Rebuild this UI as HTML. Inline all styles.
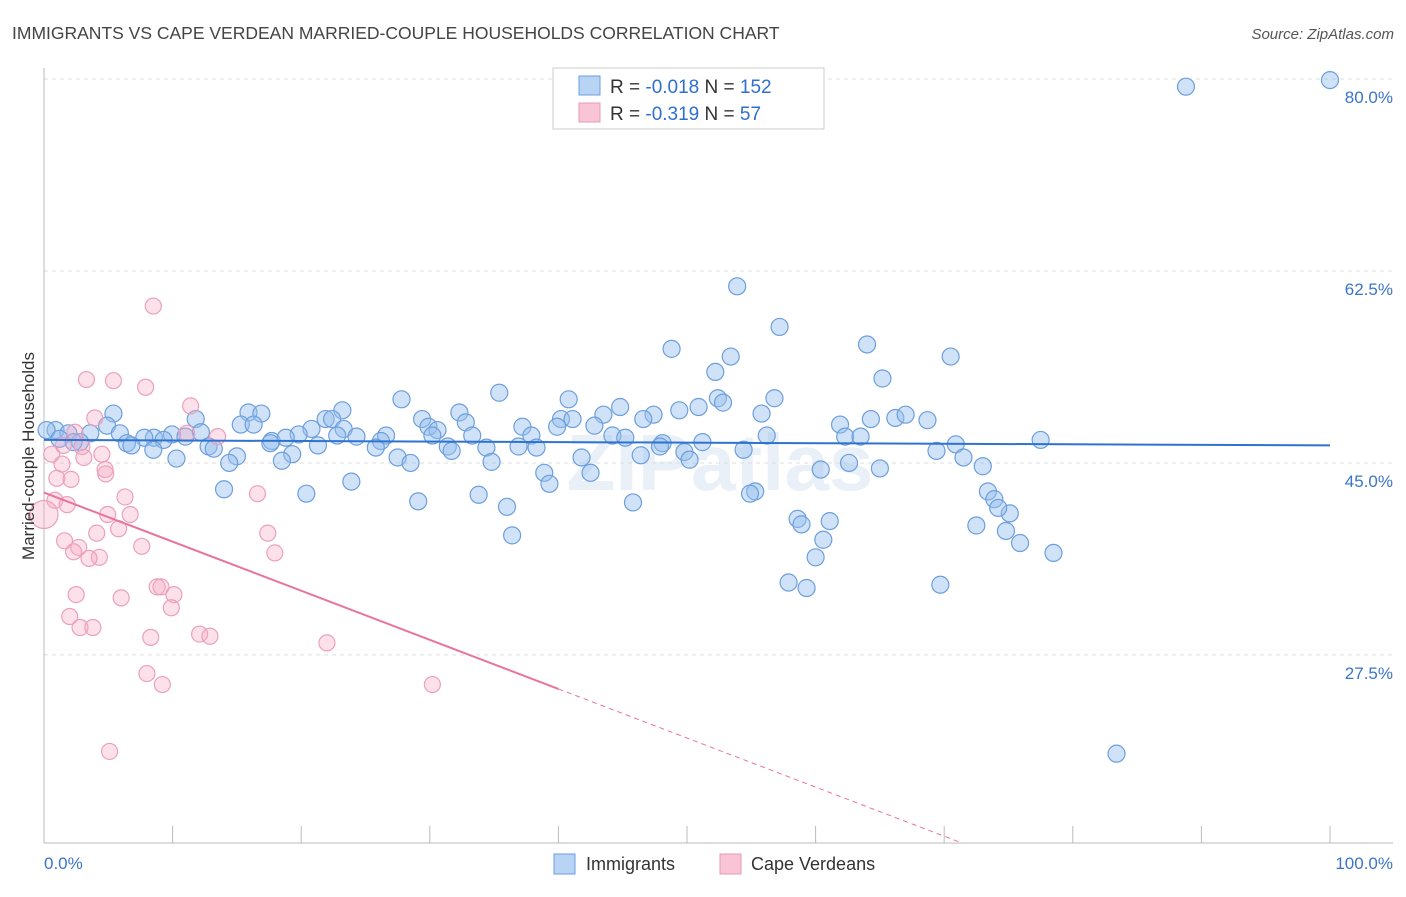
<!DOCTYPE html>
<html><head><meta charset="utf-8"><style>
body{margin:0;background:#fff;font-family:"Liberation Sans",sans-serif;}
svg text{font-family:"Liberation Sans",sans-serif;}
</style></head><body>
<svg id="chart" width="1406" height="892">
<text x="12" y="39" font-size="17.5" fill="#444">IMMIGRANTS VS CAPE VERDEAN MARRIED-COUPLE HOUSEHOLDS CORRELATION CHART</text>
<text x="1394" y="39" font-size="15" fill="#555" font-style="italic" text-anchor="end">Source: ZipAtlas.com</text>
<text x="720" y="490" font-size="80" fill="#d8e4f2" opacity="0.55" text-anchor="middle" font-weight="bold">ZIPatlas</text>
<g id="grid"></g>
<g id="axes"></g>
<g id="points"></g>
<g id="trends"></g>
<text transform="translate(34,456) rotate(-90)" font-size="17" fill="#333" text-anchor="middle">Married-couple Households</text>
<g>
<rect x="553" y="68" width="271" height="61" fill="#fff" stroke="#ccc"/>
<rect x="579" y="76" width="21" height="19" fill="#b8d3f3" stroke="#6a9fdf"/>
<rect x="579" y="103" width="21" height="19" fill="#f9c4d5" stroke="#e89ab5"/>
<text x="610" y="93" font-size="19" fill="#333">R = <tspan fill="#2f6fd0">-0.018</tspan>   N = <tspan fill="#2f6fd0">152</tspan></text>
<text x="610" y="120" font-size="19" fill="#333">R = <tspan fill="#2f6fd0">-0.319</tspan>   N = <tspan fill="#2f6fd0">  57</tspan></text>
</g>
<g>
<rect x="554" y="854" width="21" height="20" fill="#b8d3f3" stroke="#6a9fdf"/>
<text x="586" y="870" font-size="18" fill="#333">Immigrants</text>
<rect x="720" y="854" width="21" height="20" fill="#f9c4d5" stroke="#e89ab5"/>
<text x="751" y="870" font-size="18" fill="#333">Cape Verdeans</text>
</g>
</svg>
<script>
const yTicks=[80,62.5,45,27.5];
const yTickLabels=["80.0%","62.5%","45.0%","27.5%"];
const xTickVals=[0,10,20,30,40,50,60,70,80,90,100];
const xEndLabels=["0.0%","100.0%"];
const blueX=[100,88.8,53.9,57.2,48.8,53.4,64.0,70.5,52.2,65.2,35.4,27.8,40.8,52.4,56.8,52.8,44.8,50.9,49.4,23.2,32.3,15.9,16.9,5.4,29.4,32.8,21.9,22.4,40.2,41.1,43.5,47.4,55.8,64.3,66.2,67.0,68.7,11.8,15.3,4.9,61.9,16.3,42.8,46.6,29.9,20.8,23.3,0.9,37.2,39.9,30.6,5.9,12.2,9.95,1.9,3.6,19.8,22.8,24.3,26.6,30.2,33.3,37.9,44.2,45.2,56.2,62.3,63.5,77.5,8.55,11.0,9.3,7.8,6.45,2.8,17.7,18.8,17.6,26.2,48.1,51.2,70.9,6.8,12.8,21.3,25.8,31.4,34.4,36.9,38.3,8.5,13.2,31.7,47.9,49.8,54.4,69.4,50.2,46.4,41.8,27.5,19.3,15.0,10.3,71.5,34.8,28.5,18.5,14.4,62.6,73.0,60.4,65.0,38.9,42.5,23.9,39.3,14.0,73.4,55.3,54.9,20.4,33.8,73.9,29.1,45.8,36.0,75.1,74.2,58.6,58.9,61.1,72.5,74.8,36.4,60.6,75.9,78.5,60.0,57.9,59.3,69.7,83.4,0.2,1.2,2.3];
const blueY=[79.9,79.3,61.1,57.4,55.4,54.7,55.8,54.7,53.3,52.7,51.4,50.8,50.8,50.9,50.9,50.5,50.1,50.1,49.8,49.8,49.6,49.6,49.5,49.5,49.0,48.7,49.0,49.0,49.0,49.0,49.4,49.4,49.5,49.0,49.1,49.4,48.9,49.0,48.5,48.4,48.5,48.5,48.4,49.0,48.3,48.1,48.1,48.0,48.3,48.3,48.0,47.7,47.8,47.6,47.7,47.7,47.6,47.5,47.4,47.5,47.5,47.5,47.5,47.5,47.3,47.5,47.4,47.4,47.1,47.3,47.4,47.1,47.3,46.8,46.9,47.0,47.3,46.8,47.0,46.8,46.9,46.7,46.6,46.5,46.6,46.4,46.5,46.4,46.5,46.4,46.2,46.3,46.1,46.5,46.0,46.2,46.1,45.3,45.7,45.5,45.5,45.8,45.6,45.4,45.5,45.1,45.0,45.2,45.0,45.0,44.7,44.4,44.5,44.1,44.1,43.3,43.1,42.6,42.4,42.4,42.2,42.2,42.1,41.7,41.5,41.4,41.0,40.4,40.9,39.9,39.4,39.7,39.3,38.8,38.4,38.0,37.7,36.8,36.4,34.1,33.6,33.9,18.5,48.0,47.2,46.9];
const pinkX=[8.5,3.3,5.4,7.9,11.4,3.95,11.1,13.5,2.4,1.5,2.95,0.6,4.5,3.1,1.4,4.75,4.8,1.0,2.1,6.3,16.6,0.85,1.8,0,4.95,6.7,5.8,4.1,17.4,1.6,2.7,7.6,2.3,17.95,4.3,3.5,8.8,9.1,2.5,6.0,10.1,9.9,2.0,2.8,3.8,8.3,12.1,12.9,22.0,8.0,9.2,30.2,5.1];
const pinkY=[59.3,52.6,52.5,51.9,50.2,49.1,47.7,47.4,47.8,46.6,46.5,45.8,45.8,45.5,44.9,44.4,44.0,43.6,43.5,41.9,42.2,41.6,41.2,40.3,40.3,40.3,39.0,38.6,38.6,37.9,37.3,37.4,36.9,36.8,36.4,36.3,33.7,33.7,33.0,32.7,33.0,31.8,31.0,30.0,30.0,29.1,29.4,29.2,28.6,25.8,24.8,24.8,18.7];
const blueTrend=[47.1,46.6];
const pinkTrend=[42.3,24.4];
const pinkSolidEnd=40;
const NS="http://www.w3.org/2000/svg";
const X0=44,X1=1330,YTOP=79,PX_PER=10.97;
function sx(v){return X0+(X1-X0)*v/100;}
function sy(v){return YTOP+(80-v)*PX_PER;}
function mk(tag,attrs,parent){const e=document.createElementNS(NS,tag);for(const k in attrs)e.setAttribute(k,attrs[k]);parent.appendChild(e);return e;}
const grid=document.getElementById('grid'),axes=document.getElementById('axes'),pts=document.getElementById('points'),tr=document.getElementById('trends');
yTicks.forEach((t,i)=>{
 const l=mk('line',{x1:44,x2:1393,y1:sy(t),y2:sy(t),stroke:'#ddd','stroke-dasharray':'4,4'},grid);
 
 
 const tx=mk('text',{x:1393,y:sy(t)+24,'font-size':17,fill:'#3b74c9','text-anchor':'end'},axes);
 tx.textContent=yTickLabels[i];
 
 
});
const ax=mk('line',{x1:44,x2:1393,y1:843,y2:843,stroke:'#bbb'},axes);


const ay=mk('line',{x1:44,x2:44,y1:68,y2:843,stroke:'#bbb'},axes);


xTickVals.forEach(v=>{
 const t=mk('line',{x1:sx(v),x2:sx(v),y1:826,y2:843,stroke:'#bbb'},axes);
 
 
});
const xl0=mk('text',{x:44,y:869,'font-size':17,fill:'#3b74c9'},axes);xl0.textContent=xEndLabels[0];


const xl1=mk('text',{x:1393,y:869,'font-size':17,fill:'#3b74c9','text-anchor':'end'},axes);xl1.textContent=xEndLabels[1];


blueX.forEach((x,i)=>{
 const c=mk('circle',{cx:sx(x),cy:sy(blueY[i]),r:8.5,fill:'rgba(150,190,238,0.45)',stroke:'#6d9fdc','stroke-width':1.2},pts);
 
 
});
pinkX.forEach((x,i)=>{
 const c=mk('circle',{cx:sx(x),cy:sy(pinkY[i]),r:i===23?14:8,fill:'rgba(245,170,195,0.35)',stroke:'#eba0bb','stroke-width':1.2},pts);
 
 
});
const bl=mk('line',{x1:sx(0),x2:sx(100),y1:sy(blueTrend[0]),y2:sy(blueTrend[1]),stroke:'#2f73d0','stroke-width':2},tr);


const slope=(pinkTrend[1]-pinkTrend[0])/pinkSolidEnd;
const pl=mk('line',{x1:sx(0),x2:sx(pinkSolidEnd),y1:sy(pinkTrend[0]),y2:sy(pinkTrend[1]),stroke:'#e8749c','stroke-width':2},tr);


const xEnd=(10.4-pinkTrend[0])/slope;
const pd=mk('line',{x1:sx(pinkSolidEnd),x2:sx(xEnd),y1:sy(pinkTrend[1]),y2:sy(10.4),stroke:'#e8749c','stroke-width':1,'stroke-dasharray':'5,4'},tr);


</script>
</body></html>
